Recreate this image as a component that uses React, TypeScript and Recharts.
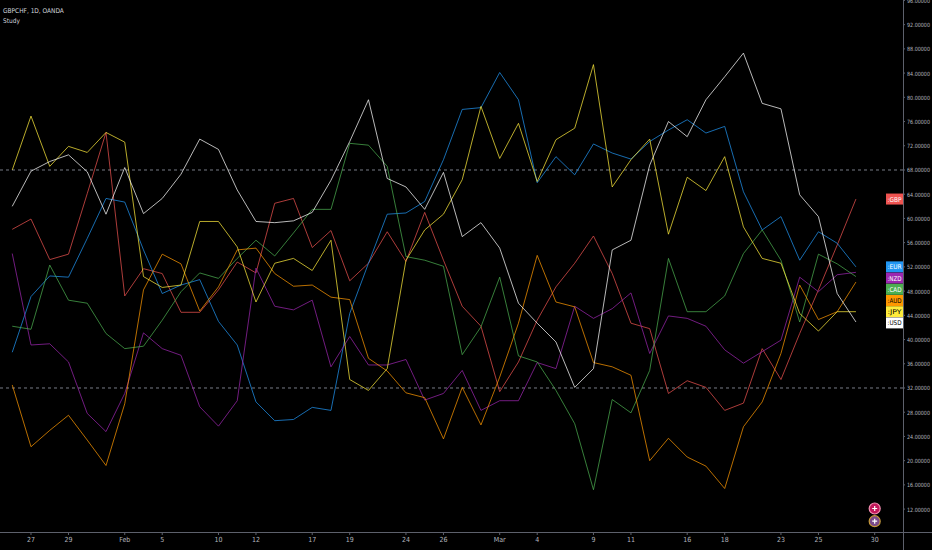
import React from 'react';
import { LineChart, Line, XAxis, YAxis, ReferenceLine, ReferenceDot } from 'recharts';

// trading days shown on the chart (last one has no values yet)
const dates = [
  'Jan 24', 'Jan 27', 'Jan 28', 'Jan 29', 'Jan 30', 'Jan 31',
  'Feb 3', 'Feb 4', 'Feb 5', 'Feb 6', 'Feb 7', 'Feb 10', 'Feb 11', 'Feb 12', 'Feb 13', 'Feb 14',
  'Feb 17', 'Feb 18', 'Feb 19', 'Feb 20', 'Feb 21', 'Feb 24', 'Feb 25', 'Feb 26', 'Feb 27', 'Feb 28',
  'Mar 2', 'Mar 3', 'Mar 4', 'Mar 5', 'Mar 6', 'Mar 9', 'Mar 10', 'Mar 11', 'Mar 12', 'Mar 13',
  'Mar 16', 'Mar 17', 'Mar 18', 'Mar 19', 'Mar 20', 'Mar 23', 'Mar 24', 'Mar 25', 'Mar 26', 'Mar 27',
  'Mar 30',
];

const tickDates = ['Jan 27', 'Jan 29', 'Feb 3', 'Feb 5', 'Feb 10', 'Feb 12', 'Feb 17', 'Feb 19', 'Feb 24', 'Feb 26',
  'Mar 2', 'Mar 4', 'Mar 9', 'Mar 11', 'Mar 16', 'Mar 18', 'Mar 23', 'Mar 25', 'Mar 30'];
const tickLabels = ['27', '29', 'Feb', '5', '10', '12', '17', '19', '24', '26',
  'Mar', '4', '9', '11', '16', '18', '23', '25', '30'];

const yTicks = [12, 16, 20, 24, 28, 32, 36, 40, 44, 48, 52, 56, 60, 64, 68, 72, 76, 80, 84, 88, 92, 96];
const bands = [68, 32];

const gbp = [58.2, 59.9, 53.2, 54.1, 64.1, 74.2, 47.2, 51.7, 50.9, 44.5, 44.5, 48.2, 52.8, 51.0, 62.5, 63.3, 55.2, 58.0, 49.7, 52.6,
  57.8, 52.9, 61.0, 53.1, 45.5, 42.2, 31.4, 36.3, 43.2, 48.7, 52.6, 57.1, 50.9, 42.7, 41.8, 31.1, 33.2, 32.1, 28.3, 29.5,
  38.5, 33.4, 41.0, 48.2, 55.6, 63.2];
const eur = [37.9, 47.1, 50.5, 50.3, 56.7, 63.3, 62.7, 54.8, 47.6, 49.0, 49.9, 43.0, 39.1, 29.7, 26.6, 26.8, 28.8, 28.3, 44.3, 52.6,
  60.7, 60.9, 62.8, 69.7, 78.0, 78.3, 84.1, 79.6, 65.9, 70.2, 67.2, 72.3, 70.8, 69.8, 72.7, 74.6, 76.3, 74.1, 75.2, 64.4,
  58.1, 60.3, 53.1, 57.8, 55.9, 52.0];
const nzd = [54.2, 39.1, 39.3, 36.3, 27.8, 24.8, 31.1, 41.1, 38.5, 37.4, 28.9, 25.7, 29.9, 51.8, 45.5, 44.9, 46.5, 35.5, 40.5, 35.8,
  35.8, 36.7, 30.0, 31.1, 34.9, 28.3, 29.9, 29.9, 36.2, 35.2, 45.5, 43.5, 45.1, 47.7, 37.7, 43.9, 43.5, 42.2, 38.3, 36.1,
  38.0, 39.9, 50.3, 47.9, 50.7, 51.1];
const cad = [42.2, 41.7, 52.3, 46.5, 46.0, 41.0, 38.5, 38.9, 43.2, 47.9, 51.0, 50.1, 53.4, 56.4, 53.8, 57.6, 61.5, 61.5, 72.4, 72.1,
  68.6, 53.7, 53.1, 52.1, 37.5, 42.1, 50.3, 37.3, 36.3, 31.6, 26.1, 15.2, 30.1, 27.9, 34.9, 53.4, 44.6, 44.6, 47.2, 54.2,
  58.1, 53.1, 42.9, 54.1, 52.5, 50.4];
const aud = [32.5, 22.3, 25.0, 27.5, 23.4, 19.2, 29.4, 48.2, 54.1, 52.5, 44.7, 48.7, 54.8, 55.1, 50.9, 48.8, 49.0, 47.0, 46.6, 36.9,
  34.8, 31.2, 30.4, 23.6, 32.1, 25.9, 33.8, 42.7, 53.9, 46.2, 45.4, 36.2, 35.5, 34.1, 20.0, 23.7, 20.6, 19.1, 15.4, 25.6,
  29.7, 37.7, 49.0, 43.3, 44.6, 49.5];
const jpy = [68.0, 76.9, 68.6, 71.9, 70.9, 74.2, 72.6, 50.4, 48.6, 49.0, 59.5, 59.5, 55.3, 46.2, 52.6, 53.4, 51.4, 56.4, 33.4, 31.6,
  35.2, 53.1, 58.1, 60.7, 66.4, 78.5, 69.9, 75.7, 66.1, 73.0, 74.9, 85.4, 65.2, 69.7, 73.1, 57.4, 66.8, 64.6, 70.2, 58.6,
  53.4, 52.6, 44.3, 41.4, 44.6, 44.6];
const usd = [62.0, 67.8, 69.4, 70.5, 67.7, 60.7, 68.4, 60.8, 63.3, 67.3, 73.1, 71.4, 64.7, 59.5, 59.3, 59.6, 61.0, 66.3, 72.7, 79.6,
  66.6, 65.2, 61.5, 67.6, 57.0, 59.3, 55.1, 46.0, 42.7, 39.6, 32.1, 35.2, 54.8, 56.4, 68.8, 76.0, 73.5, 79.6, 83.4, 87.3,
  79.0, 78.1, 63.9, 60.3, 47.6, 42.9];

const series = [
  { key: 'GBP', values: gbp, color: '#ef5350', text: '#ffffff' },
  { key: 'EUR', values: eur, color: '#2196f3', text: '#ffffff' },
  { key: 'NZD', values: nzd, color: '#9c27b0', text: '#ffffff' },
  { key: 'CAD', values: cad, color: '#4caf50', text: '#ffffff' },
  { key: 'AUD', values: aud, color: '#ff9800', text: '#000000' },
  { key: 'JPY', values: jpy, color: '#ffeb3b', text: '#000000' },
  { key: 'USD', values: usd, color: '#ffffff', text: '#000000' },
];

const data = dates.map((d, i) => {
  const row: Record<string, any> = { i, date: d };
  series.forEach((s) => { row[s.key] = s.values[i] ?? null; });
  return row;
});

const tickIdx = tickDates.map((d) => dates.indexOf(d));

// last-value tags on the price scale, pushed apart so they don't overlap
const lastIdx = gbp.length - 1;
const tagGap = 1.85;
let prevTag = Infinity;
const tags = [...series]
  .sort((a, b) => b.values[lastIdx] - a.values[lastIdx])
  .map((s) => {
    const y = Math.min(s.values[lastIdx], prevTag - tagGap);
    prevTag = y;
    return { ...s, y };
  });

const X_MIN = -0.653;
const X_MAX = 47.51;
const FONT = '"Liberation Sans Narrow", "DejaVu Sans Condensed", "Roboto", sans-serif';
const AXIS = '#5d606b';

const PriceTick = ({ x, y, payload }: any) => (
  <text x={x + 1} y={y + 2.5} fontSize={5.8} fontFamily={FONT} fill="#b2b5be"
    textLength={23} lengthAdjust="spacingAndGlyphs">
    {Number(payload.value).toFixed(5)}
  </text>
);

const Tag = ({ cx, cy, s }: any) => (
  <g>
    <rect x={cx - 17} y={cy - 5.5} width={17} height={11} fill={s.color} />
    <text x={cx - 8.5} y={cy + 2.5} textAnchor="middle" fontSize={6.5} fontFamily={FONT} fill={s.text}
      textLength={14} lengthAdjust="spacingAndGlyphs">
      :{s.key}
    </text>
  </g>
);

const EventMark = ({ cx, cy, ring, fill }: any) => (
  <g>
    <circle cx={cx} cy={cy} r={5.5} fill={fill} stroke={ring} strokeWidth={1.2} />
    <path d={`M${cx - 2.5},${cy}H${cx + 2.5}M${cx},${cy - 2.5}V${cy + 2.5}`} stroke="#fff" strokeWidth={1.2} />
  </g>
);

export default function App() {
  return (
    <div style={{ position: 'relative', width: 932, height: 550, background: '#000', overflow: 'hidden' }}>
      <style>{'body{margin:0;background:#000}'}</style>
      <LineChart width={932} height={550} data={data} margin={{ top: 0, right: 0, bottom: 0, left: 0 }}>
        <XAxis
          dataKey="i"
          type="number"
          domain={[X_MIN, X_MAX]}
          allowDataOverflow
          ticks={tickIdx}
          interval={0}
          tickFormatter={(v: number) => tickLabels[tickIdx.indexOf(v)] ?? ''}
          height={18}
          axisLine={false}
          tickSize={3}
          tickLine={{ stroke: AXIS }}
          tick={{ fill: '#b2b5be', fontSize: 7, fontFamily: FONT }}
        />
        <YAxis
          orientation="right"
          width={29}
          type="number"
          domain={[8.22, 96.07]}
          allowDataOverflow
          ticks={yTicks}
          interval={0}
          axisLine={false}
          tickSize={2}
          tickMargin={1}
          tickLine={{ stroke: AXIS }}
          tick={<PriceTick />}
        />
        {bands.map((b) => (
          <ReferenceLine key={b} y={b} stroke="#787b86" strokeDasharray="3 3" strokeWidth={1} />
        ))}
        {series.map((s) => (
          <Line
            key={s.key}
            type="linear"
            dataKey={s.key}
            stroke={s.color}
            strokeOpacity={0.72}
            strokeWidth={1}
            dot={false}
            activeDot={false}
            isAnimationActive={false}
          />
        ))}
        {tags.map((s) => (
          <ReferenceDot
            key={s.key}
            x={X_MAX}
            y={s.y}
            ifOverflow="visible"
            shape={(p: any) => <Tag cx={p.cx} cy={p.cy} s={s} />}
          />
        ))}
        <ReferenceDot x={46} y={12.1} ifOverflow="visible"
          shape={(p: any) => <EventMark cx={p.cx} cy={p.cy} ring="#f48fb1" fill="#c2185b" />} />
        <ReferenceDot x={46} y={10.0} ifOverflow="visible"
          shape={(p: any) => <EventMark cx={p.cx} cy={p.cy} ring="#c79a3a" fill="#7a4a8a" />} />
      </LineChart>
      <div style={{ position: 'absolute', left: 0, top: 532, width: 932, height: 1, background: AXIS }} />
      <div style={{ position: 'absolute', left: 903, top: 0, width: 1, height: 550, background: AXIS }} />
      <div style={{ position: 'absolute', left: 3, top: 6, color: '#d1d4dc', fontSize: 6.5, fontFamily: FONT, lineHeight: '10px' }}>
        <div>GBPCHF, 1D, OANDA</div>
        <div>Study</div>
      </div>
    </div>
  );
}
